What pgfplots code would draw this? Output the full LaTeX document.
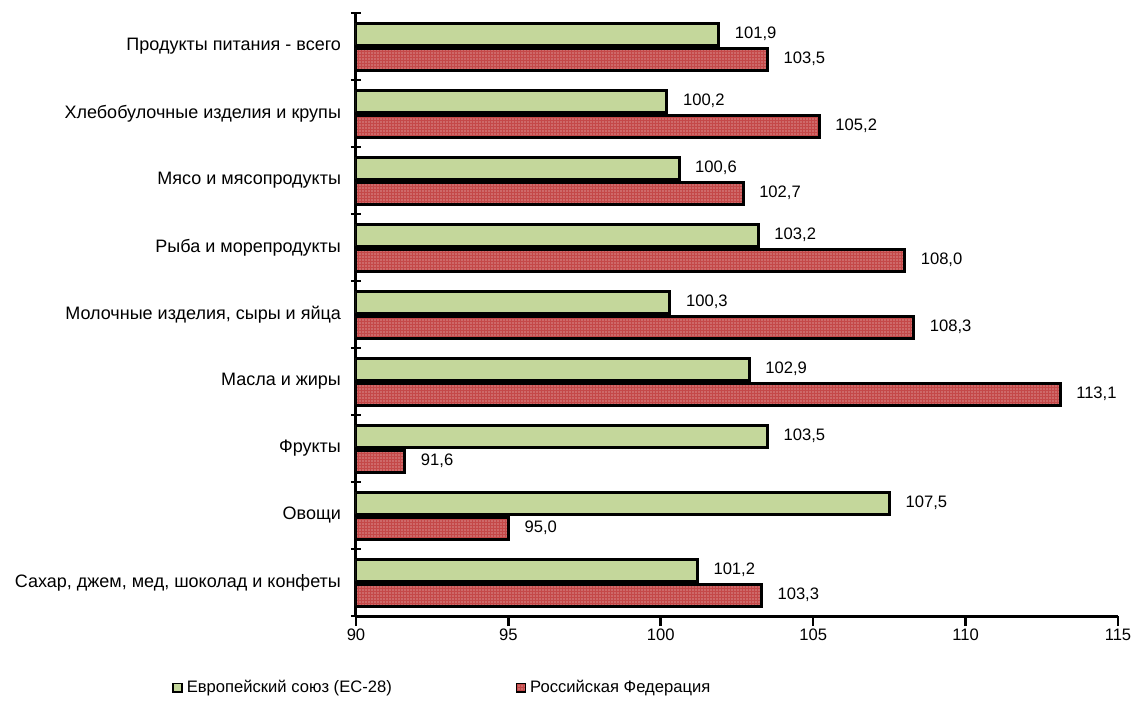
\documentclass[border=0pt]{standalone}
\usepackage{fontspec}
\setmainfont{Liberation Sans}
\usepackage{pgfplots}
\pgfplotsset{compat=1.18}
\usetikzlibrary{patterns}

\definecolor{eugreen}{RGB}{196,215,155}
\definecolor{rured}{RGB}{196,72,72}

\pgfdeclarepatternformonly{finedots}{\pgfqpoint{-0.5pt}{-0.5pt}}{\pgfqpoint{0.5pt}{0.5pt}}{\pgfqpoint{1.5pt}{1.5pt}}{%
  \pgfpathcircle{\pgfqpoint{0pt}{0pt}}{0.32pt}\pgfusepath{fill}}

\begin{document}
\begin{tikzpicture}
\useasboundingbox (-178pt,-48.5pt) rectangle (392.5pt,308pt);
\begin{axis}[
    xbar,
    scale only axis,
    width=381pt, height=301.5pt,
    at={(0,0)}, anchor=south west,
    xmin=90, xmax=115,
    xtick={90,95,...,115},
    ymin=-0.5, ymax=8.5,
    ytick={0,...,8},
    yticklabels={
        {Сахар, джем, мед, шоколад и конфеты},
        Овощи,
        Фрукты,
        Масла и жиры,
        {Молочные изделия, сыры и яйца},
        Рыба и морепродукты,
        Мясо и мясопродукты,
        Хлебобулочные изделия и крупы,
        Продукты питания - всего},
    minor ytick={-0.5,0.5,...,8.5},
    major tick length=0pt,
    minor tick length=5pt,
    xtick style={line width=1.3pt, black},
    minor y tick style={line width=1.3pt, black},
    tick align=center,
    axis lines*=left,
    axis line style={line width=1.5pt, black},
    x tick label style={font=\fontsize{8.3}{9}\selectfont, yshift=-3pt},
    y tick label style={font=\fontsize{9}{10}\selectfont, xshift=-4pt},
    /pgf/number format/assume math mode=true,
    extra x ticks={90,95,...,115},
    extra x tick labels={},
    extra x tick style={major tick length=5pt, tick align=outside},
    bar width=11pt,
    point meta=x,
    nodes near coords={\pgfmathprintnumber[fixed,fixed zerofill,precision=1,use comma]{\pgfplotspointmeta}},
    nodes near coords style={font=\fontsize{8.3}{9}\selectfont, anchor=west, xshift=4pt},
    legend style={
        at={(rel axis cs:-0.2415,-0.119)}, anchor=west,
        draw=none, fill=none,
        font=\fontsize{8.3}{9}\selectfont,
        legend columns=2,
        /tikz/every even column/.append style={column sep=60pt},
        inner sep=0pt,
    },
    legend image code/.code={%
        \draw[#1, line width=0.8pt] (0pt,-2.2pt) rectangle (4.4pt,2.2pt);},
]
\addplot[bar shift=6.25pt, fill=eugreen, draw=black, line width=1.5pt] coordinates {
    (101.2,0) (107.5,1) (103.5,2) (102.9,3) (100.3,4)
    (103.2,5) (100.6,6) (100.2,7) (101.9,8)
};
\addplot[bar shift=-6.25pt, fill=rured, draw=black, line width=1.5pt,
    postaction={pattern=finedots, pattern color=white!80!rured}] coordinates {
    (103.3,0) (95.0,1) (91.6,2) (113.1,3) (108.3,4)
    (108.0,5) (102.7,6) (105.2,7) (103.5,8)
};
\legend{Европейский союз (ЕС-28), Российская Федерация}
\end{axis}
\end{tikzpicture}
\end{document}
